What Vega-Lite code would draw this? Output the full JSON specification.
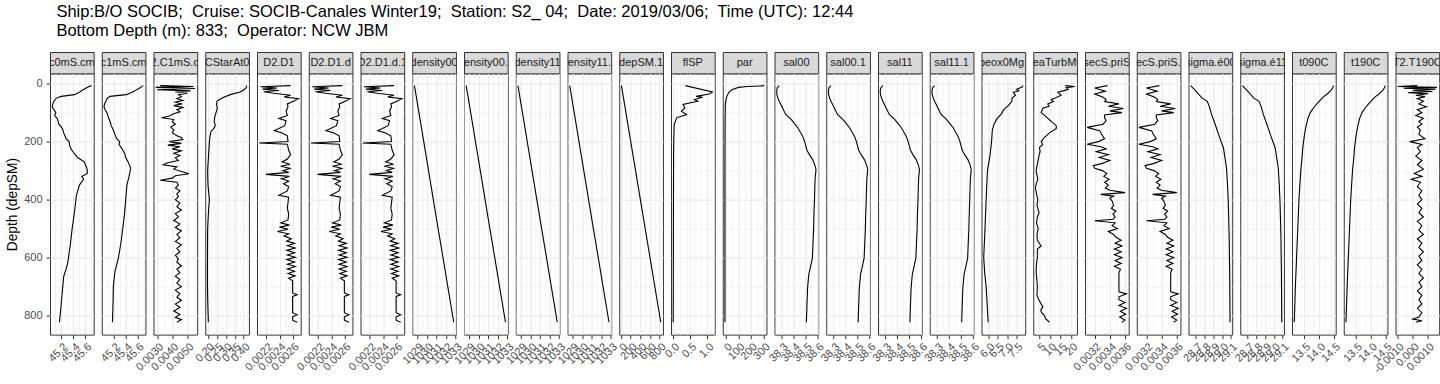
{
"$schema":"https://vega.github.io/schema/vega-lite/v6.json",
"padding":{"left":5,"top":4,"right":4,"bottom":4},
"background":"white",
"title":{"text":["Ship:B/O SOCIB;\u00a0 Cruise: SOCIB-Canales Winter19;\u00a0 Station: S2_ 04;\u00a0 Date: 2019/03/06;\u00a0 Time (UTC): 12:44","\u00a0Bottom Depth (m): 833;\u00a0 Operator: NCW JBM"],"anchor":"start","frame":"group","dx":6.4,"fontSize":16.5,"fontWeight":"normal","font":"Liberation Sans","color":"black","lineHeight":19,"offset":11.7},
"data":{"values":[
{"v":"c0mS.cm","d":7,"x":45.70},{"v":"c0mS.cm","d":12,"x":45.64},{"v":"c0mS.cm","d":20,"x":45.57},{"v":"c0mS.cm","d":30,"x":45.50},{"v":"c0mS.cm","d":38,"x":45.42},{"v":"c0mS.cm","d":44,"x":45.20},{"v":"c0mS.cm","d":50,"x":45.12},{"v":"c0mS.cm","d":60,"x":45.08},{"v":"c0mS.cm","d":70,"x":45.06},{"v":"c0mS.cm","d":80,"x":45.05},{"v":"c0mS.cm","d":90,"x":45.08},{"v":"c0mS.cm","d":100,"x":45.11},{"v":"c0mS.cm","d":110,"x":45.09},{"v":"c0mS.cm","d":120,"x":45.13},{"v":"c0mS.cm","d":130,"x":45.15},{"v":"c0mS.cm","d":140,"x":45.16},{"v":"c0mS.cm","d":155,"x":45.22},{"v":"c0mS.cm","d":170,"x":45.24},{"v":"c0mS.cm","d":190,"x":45.28},{"v":"c0mS.cm","d":200,"x":45.33},{"v":"c0mS.cm","d":215,"x":45.34},{"v":"c0mS.cm","d":225,"x":45.36},{"v":"c0mS.cm","d":240,"x":45.41},{"v":"c0mS.cm","d":255,"x":45.47},{"v":"c0mS.cm","d":270,"x":45.58},{"v":"c0mS.cm","d":280,"x":45.60},{"v":"c0mS.cm","d":290,"x":45.62},{"v":"c0mS.cm","d":300,"x":45.63},{"v":"c0mS.cm","d":310,"x":45.63},{"v":"c0mS.cm","d":320,"x":45.54},{"v":"c0mS.cm","d":330,"x":45.57},{"v":"c0mS.cm","d":350,"x":45.50},{"v":"c0mS.cm","d":385,"x":45.45},{"v":"c0mS.cm","d":440,"x":45.42},{"v":"c0mS.cm","d":500,"x":45.38},{"v":"c0mS.cm","d":555,"x":45.35},{"v":"c0mS.cm","d":615,"x":45.31},{"v":"c0mS.cm","d":640,"x":45.28},{"v":"c0mS.cm","d":665,"x":45.24},{"v":"c0mS.cm","d":735,"x":45.21},{"v":"c0mS.cm","d":780,"x":45.19},{"v":"c0mS.cm","d":823,"x":45.17},
{"v":"c1mS.cm","d":7,"x":45.69},{"v":"c1mS.cm","d":15,"x":45.63},{"v":"c1mS.cm","d":25,"x":45.55},{"v":"c1mS.cm","d":32,"x":45.48},{"v":"c1mS.cm","d":38,"x":45.41},{"v":"c1mS.cm","d":44,"x":45.14},{"v":"c1mS.cm","d":52,"x":45.09},{"v":"c1mS.cm","d":60,"x":45.075},{"v":"c1mS.cm","d":70,"x":45.05},{"v":"c1mS.cm","d":80,"x":45.04},{"v":"c1mS.cm","d":90,"x":45.06},{"v":"c1mS.cm","d":100,"x":45.09},{"v":"c1mS.cm","d":115,"x":45.11},{"v":"c1mS.cm","d":130,"x":45.14},{"v":"c1mS.cm","d":145,"x":45.16},{"v":"c1mS.cm","d":160,"x":45.195},{"v":"c1mS.cm","d":175,"x":45.22},{"v":"c1mS.cm","d":190,"x":45.25},{"v":"c1mS.cm","d":200,"x":45.30},{"v":"c1mS.cm","d":210,"x":45.29},{"v":"c1mS.cm","d":225,"x":45.34},{"v":"c1mS.cm","d":240,"x":45.38},{"v":"c1mS.cm","d":255,"x":45.40},{"v":"c1mS.cm","d":270,"x":45.44},{"v":"c1mS.cm","d":290,"x":45.48},{"v":"c1mS.cm","d":305,"x":45.47},{"v":"c1mS.cm","d":320,"x":45.455},{"v":"c1mS.cm","d":350,"x":45.42},{"v":"c1mS.cm","d":400,"x":45.40},{"v":"c1mS.cm","d":450,"x":45.38},{"v":"c1mS.cm","d":500,"x":45.35},{"v":"c1mS.cm","d":550,"x":45.32},{"v":"c1mS.cm","d":600,"x":45.28},{"v":"c1mS.cm","d":650,"x":45.22},{"v":"c1mS.cm","d":700,"x":45.195},{"v":"c1mS.cm","d":760,"x":45.19},{"v":"c1mS.cm","d":823,"x":45.18},
{"v":"C2.C1mS.cm","d":7,"x":0.0032},{"v":"C2.C1mS.cm","d":10,"x":0.0054},{"v":"C2.C1mS.cm","d":13,"x":0.0029},{"v":"C2.C1mS.cm","d":17,"x":0.0055},{"v":"C2.C1mS.cm","d":21,"x":0.0030},{"v":"C2.C1mS.cm","d":25,"x":0.0052},{"v":"C2.C1mS.cm","d":29,"x":0.0042},{"v":"C2.C1mS.cm","d":33,"x":0.0050},{"v":"C2.C1mS.cm","d":38,"x":0.0044},{"v":"C2.C1mS.cm","d":45,"x":0.0046},{"v":"C2.C1mS.cm","d":52,"x":0.0043},{"v":"C2.C1mS.cm","d":58,"x":0.0047},{"v":"C2.C1mS.cm","d":64,"x":0.0042},{"v":"C2.C1mS.cm","d":70,"x":0.0046},{"v":"C2.C1mS.cm","d":76,"x":0.0041},{"v":"C2.C1mS.cm","d":82,"x":0.0047},{"v":"C2.C1mS.cm","d":90,"x":0.0043},{"v":"C2.C1mS.cm","d":97,"x":0.0045},{"v":"C2.C1mS.cm","d":104,"x":0.0041},{"v":"C2.C1mS.cm","d":112,"x":0.0038},{"v":"C2.C1mS.cm","d":118,"x":0.0033},{"v":"C2.C1mS.cm","d":124,"x":0.0041},{"v":"C2.C1mS.cm","d":132,"x":0.0040},{"v":"C2.C1mS.cm","d":140,"x":0.0042},{"v":"C2.C1mS.cm","d":150,"x":0.0039},{"v":"C2.C1mS.cm","d":160,"x":0.0041},{"v":"C2.C1mS.cm","d":170,"x":0.0040},{"v":"C2.C1mS.cm","d":180,"x":0.0043},{"v":"C2.C1mS.cm","d":186,"x":0.0046},{"v":"C2.C1mS.cm","d":193,"x":0.0047},{"v":"C2.C1mS.cm","d":200,"x":0.0038},{"v":"C2.C1mS.cm","d":206,"x":0.0046},{"v":"C2.C1mS.cm","d":212,"x":0.0037},{"v":"C2.C1mS.cm","d":218,"x":0.0045},{"v":"C2.C1mS.cm","d":225,"x":0.0040},{"v":"C2.C1mS.cm","d":232,"x":0.0046},{"v":"C2.C1mS.cm","d":240,"x":0.0041},{"v":"C2.C1mS.cm","d":248,"x":0.0045},{"v":"C2.C1mS.cm","d":256,"x":0.0042},{"v":"C2.C1mS.cm","d":265,"x":0.0044},{"v":"C2.C1mS.cm","d":273,"x":0.0037},{"v":"C2.C1mS.cm","d":280,"x":0.0034},{"v":"C2.C1mS.cm","d":287,"x":0.0043},{"v":"C2.C1mS.cm","d":295,"x":0.0041},{"v":"C2.C1mS.cm","d":303,"x":0.0046},{"v":"C2.C1mS.cm","d":311,"x":0.0051},{"v":"C2.C1mS.cm","d":318,"x":0.0042},{"v":"C2.C1mS.cm","d":326,"x":0.0040},{"v":"C2.C1mS.cm","d":333,"x":0.0032},{"v":"C2.C1mS.cm","d":340,"x":0.0043},{"v":"C2.C1mS.cm","d":350,"x":0.0044},{"v":"C2.C1mS.cm","d":360,"x":0.0042},{"v":"C2.C1mS.cm","d":370,"x":0.0045},{"v":"C2.C1mS.cm","d":380,"x":0.0043},{"v":"C2.C1mS.cm","d":390,"x":0.0044},{"v":"C2.C1mS.cm","d":400,"x":0.0042},{"v":"C2.C1mS.cm","d":412,"x":0.0045},{"v":"C2.C1mS.cm","d":424,"x":0.0043},{"v":"C2.C1mS.cm","d":436,"x":0.0046},{"v":"C2.C1mS.cm","d":448,"x":0.0042},{"v":"C2.C1mS.cm","d":460,"x":0.0044},{"v":"C2.C1mS.cm","d":472,"x":0.0041},{"v":"C2.C1mS.cm","d":484,"x":0.0045},{"v":"C2.C1mS.cm","d":496,"x":0.0042},{"v":"C2.C1mS.cm","d":508,"x":0.0046},{"v":"C2.C1mS.cm","d":520,"x":0.0043},{"v":"C2.C1mS.cm","d":532,"x":0.0045},{"v":"C2.C1mS.cm","d":544,"x":0.0042},{"v":"C2.C1mS.cm","d":556,"x":0.0046},{"v":"C2.C1mS.cm","d":568,"x":0.0043},{"v":"C2.C1mS.cm","d":580,"x":0.0045},{"v":"C2.C1mS.cm","d":592,"x":0.0042},{"v":"C2.C1mS.cm","d":604,"x":0.0044},{"v":"C2.C1mS.cm","d":616,"x":0.0043},{"v":"C2.C1mS.cm","d":628,"x":0.0046},{"v":"C2.C1mS.cm","d":640,"x":0.0043},{"v":"C2.C1mS.cm","d":652,"x":0.0045},{"v":"C2.C1mS.cm","d":664,"x":0.0042},{"v":"C2.C1mS.cm","d":676,"x":0.0045},{"v":"C2.C1mS.cm","d":688,"x":0.0043},{"v":"C2.C1mS.cm","d":700,"x":0.0046},{"v":"C2.C1mS.cm","d":712,"x":0.0042},{"v":"C2.C1mS.cm","d":724,"x":0.0045},{"v":"C2.C1mS.cm","d":736,"x":0.0043},{"v":"C2.C1mS.cm","d":748,"x":0.0046},{"v":"C2.C1mS.cm","d":760,"x":0.0042},{"v":"C2.C1mS.cm","d":772,"x":0.0045},{"v":"C2.C1mS.cm","d":784,"x":0.0041},{"v":"C2.C1mS.cm","d":796,"x":0.0045},{"v":"C2.C1mS.cm","d":806,"x":0.0042},{"v":"C2.C1mS.cm","d":814,"x":0.0046},{"v":"C2.C1mS.cm","d":823,"x":0.0043},
{"v":"CStarAt0","d":7,"x":0.417},{"v":"CStarAt0","d":15,"x":0.413},{"v":"CStarAt0","d":22,"x":0.400},{"v":"CStarAt0","d":30,"x":0.376},{"v":"CStarAt0","d":38,"x":0.324},{"v":"CStarAt0","d":50,"x":0.279},{"v":"CStarAt0","d":60,"x":0.251},{"v":"CStarAt0","d":70,"x":0.248},{"v":"CStarAt0","d":85,"x":0.252},{"v":"CStarAt0","d":100,"x":0.245},{"v":"CStarAt0","d":115,"x":0.238},{"v":"CStarAt0","d":130,"x":0.235},{"v":"CStarAt0","d":145,"x":0.241},{"v":"CStarAt0","d":155,"x":0.232},{"v":"CStarAt0","d":165,"x":0.217},{"v":"CStarAt0","d":180,"x":0.212},{"v":"CStarAt0","d":200,"x":0.208},{"v":"CStarAt0","d":250,"x":0.203},{"v":"CStarAt0","d":300,"x":0.198},{"v":"CStarAt0","d":350,"x":0.200},{"v":"CStarAt0","d":400,"x":0.208},{"v":"CStarAt0","d":440,"x":0.203},{"v":"CStarAt0","d":500,"x":0.198},{"v":"CStarAt0","d":600,"x":0.197},{"v":"CStarAt0","d":700,"x":0.197},{"v":"CStarAt0","d":760,"x":0.199},{"v":"CStarAt0","d":823,"x":0.202},
{"v":"D2.D1","d":7,"x":0.00257},{"v":"D2.D1","d":11,"x":0.00211},{"v":"D2.D1","d":15,"x":0.00236},{"v":"D2.D1","d":19,"x":0.00214},{"v":"D2.D1","d":24,"x":0.00239},{"v":"D2.D1","d":28,"x":0.00216},{"v":"D2.D1","d":33,"x":0.00231},{"v":"D2.D1","d":40,"x":0.00257},{"v":"D2.D1","d":46,"x":0.00247},{"v":"D2.D1","d":52,"x":0.00269},{"v":"D2.D1","d":60,"x":0.00262},{"v":"D2.D1","d":70,"x":0.00252},{"v":"D2.D1","d":80,"x":0.00253},{"v":"D2.D1","d":95,"x":0.00250},{"v":"D2.D1","d":110,"x":0.00252},{"v":"D2.D1","d":120,"x":0.00239},{"v":"D2.D1","d":128,"x":0.00250},{"v":"D2.D1","d":145,"x":0.00248},{"v":"D2.D1","d":155,"x":0.00239},{"v":"D2.D1","d":162,"x":0.00232},{"v":"D2.D1","d":170,"x":0.00244},{"v":"D2.D1","d":180,"x":0.00252},{"v":"D2.D1","d":200,"x":0.00253},{"v":"D2.D1","d":205,"x":0.00209},{"v":"D2.D1","d":209,"x":0.00252},{"v":"D2.D1","d":230,"x":0.00254},{"v":"D2.D1","d":245,"x":0.00257},{"v":"D2.D1","d":260,"x":0.00252},{"v":"D2.D1","d":270,"x":0.00244},{"v":"D2.D1","d":278,"x":0.00256},{"v":"D2.D1","d":285,"x":0.00242},{"v":"D2.D1","d":292,"x":0.00256},{"v":"D2.D1","d":300,"x":0.00245},{"v":"D2.D1","d":306,"x":0.00254},{"v":"D2.D1","d":313,"x":0.00219},{"v":"D2.D1","d":320,"x":0.00255},{"v":"D2.D1","d":328,"x":0.00243},{"v":"D2.D1","d":336,"x":0.00254},{"v":"D2.D1","d":345,"x":0.00246},{"v":"D2.D1","d":355,"x":0.00254},{"v":"D2.D1","d":370,"x":0.00252},{"v":"D2.D1","d":385,"x":0.00239},{"v":"D2.D1","d":392,"x":0.00254},{"v":"D2.D1","d":410,"x":0.00253},{"v":"D2.D1","d":430,"x":0.00252},{"v":"D2.D1","d":450,"x":0.00254},{"v":"D2.D1","d":470,"x":0.00253},{"v":"D2.D1","d":480,"x":0.00242},{"v":"D2.D1","d":488,"x":0.00255},{"v":"D2.D1","d":495,"x":0.00240},{"v":"D2.D1","d":502,"x":0.00253},{"v":"D2.D1","d":510,"x":0.00237},{"v":"D2.D1","d":518,"x":0.00254},{"v":"D2.D1","d":525,"x":0.00247},{"v":"D2.D1","d":535,"x":0.00258},{"v":"D2.D1","d":543,"x":0.00251},{"v":"D2.D1","d":551,"x":0.00263},{"v":"D2.D1","d":559,"x":0.00252},{"v":"D2.D1","d":567,"x":0.00264},{"v":"D2.D1","d":575,"x":0.00251},{"v":"D2.D1","d":583,"x":0.00263},{"v":"D2.D1","d":591,"x":0.00252},{"v":"D2.D1","d":599,"x":0.00264},{"v":"D2.D1","d":607,"x":0.00251},{"v":"D2.D1","d":615,"x":0.00263},{"v":"D2.D1","d":623,"x":0.00252},{"v":"D2.D1","d":631,"x":0.00264},{"v":"D2.D1","d":639,"x":0.00252},{"v":"D2.D1","d":647,"x":0.00263},{"v":"D2.D1","d":655,"x":0.00253},{"v":"D2.D1","d":663,"x":0.00264},{"v":"D2.D1","d":671,"x":0.00254},{"v":"D2.D1","d":680,"x":0.00260},{"v":"D2.D1","d":722,"x":0.00260},{"v":"D2.D1","d":728,"x":0.00267},{"v":"D2.D1","d":734,"x":0.00260},{"v":"D2.D1","d":790,"x":0.00260},{"v":"D2.D1","d":797,"x":0.00267},{"v":"D2.D1","d":804,"x":0.00260},{"v":"D2.D1","d":816,"x":0.00260},{"v":"D2.D1","d":823,"x":0.00267},
{"v":"D2.D1.d","d":7,"x":0.00257},{"v":"D2.D1.d","d":11,"x":0.00211},{"v":"D2.D1.d","d":15,"x":0.00236},{"v":"D2.D1.d","d":19,"x":0.00214},{"v":"D2.D1.d","d":24,"x":0.00239},{"v":"D2.D1.d","d":28,"x":0.00216},{"v":"D2.D1.d","d":33,"x":0.00231},{"v":"D2.D1.d","d":40,"x":0.00257},{"v":"D2.D1.d","d":46,"x":0.00247},{"v":"D2.D1.d","d":52,"x":0.00269},{"v":"D2.D1.d","d":60,"x":0.00262},{"v":"D2.D1.d","d":70,"x":0.00252},{"v":"D2.D1.d","d":80,"x":0.00253},{"v":"D2.D1.d","d":95,"x":0.00250},{"v":"D2.D1.d","d":110,"x":0.00252},{"v":"D2.D1.d","d":120,"x":0.00239},{"v":"D2.D1.d","d":128,"x":0.00250},{"v":"D2.D1.d","d":145,"x":0.00248},{"v":"D2.D1.d","d":155,"x":0.00239},{"v":"D2.D1.d","d":162,"x":0.00232},{"v":"D2.D1.d","d":170,"x":0.00244},{"v":"D2.D1.d","d":180,"x":0.00252},{"v":"D2.D1.d","d":200,"x":0.00253},{"v":"D2.D1.d","d":205,"x":0.00209},{"v":"D2.D1.d","d":209,"x":0.00252},{"v":"D2.D1.d","d":230,"x":0.00254},{"v":"D2.D1.d","d":245,"x":0.00257},{"v":"D2.D1.d","d":260,"x":0.00252},{"v":"D2.D1.d","d":270,"x":0.00244},{"v":"D2.D1.d","d":278,"x":0.00256},{"v":"D2.D1.d","d":285,"x":0.00242},{"v":"D2.D1.d","d":292,"x":0.00256},{"v":"D2.D1.d","d":300,"x":0.00245},{"v":"D2.D1.d","d":306,"x":0.00254},{"v":"D2.D1.d","d":313,"x":0.00219},{"v":"D2.D1.d","d":320,"x":0.00255},{"v":"D2.D1.d","d":328,"x":0.00243},{"v":"D2.D1.d","d":336,"x":0.00254},{"v":"D2.D1.d","d":345,"x":0.00246},{"v":"D2.D1.d","d":355,"x":0.00254},{"v":"D2.D1.d","d":370,"x":0.00252},{"v":"D2.D1.d","d":385,"x":0.00239},{"v":"D2.D1.d","d":392,"x":0.00254},{"v":"D2.D1.d","d":410,"x":0.00253},{"v":"D2.D1.d","d":430,"x":0.00252},{"v":"D2.D1.d","d":450,"x":0.00254},{"v":"D2.D1.d","d":470,"x":0.00253},{"v":"D2.D1.d","d":480,"x":0.00242},{"v":"D2.D1.d","d":488,"x":0.00255},{"v":"D2.D1.d","d":495,"x":0.00240},{"v":"D2.D1.d","d":502,"x":0.00253},{"v":"D2.D1.d","d":510,"x":0.00237},{"v":"D2.D1.d","d":518,"x":0.00254},{"v":"D2.D1.d","d":525,"x":0.00247},{"v":"D2.D1.d","d":535,"x":0.00258},{"v":"D2.D1.d","d":543,"x":0.00251},{"v":"D2.D1.d","d":551,"x":0.00263},{"v":"D2.D1.d","d":559,"x":0.00252},{"v":"D2.D1.d","d":567,"x":0.00264},{"v":"D2.D1.d","d":575,"x":0.00251},{"v":"D2.D1.d","d":583,"x":0.00263},{"v":"D2.D1.d","d":591,"x":0.00252},{"v":"D2.D1.d","d":599,"x":0.00264},{"v":"D2.D1.d","d":607,"x":0.00251},{"v":"D2.D1.d","d":615,"x":0.00263},{"v":"D2.D1.d","d":623,"x":0.00252},{"v":"D2.D1.d","d":631,"x":0.00264},{"v":"D2.D1.d","d":639,"x":0.00252},{"v":"D2.D1.d","d":647,"x":0.00263},{"v":"D2.D1.d","d":655,"x":0.00253},{"v":"D2.D1.d","d":663,"x":0.00264},{"v":"D2.D1.d","d":671,"x":0.00254},{"v":"D2.D1.d","d":680,"x":0.00260},{"v":"D2.D1.d","d":722,"x":0.00260},{"v":"D2.D1.d","d":728,"x":0.00267},{"v":"D2.D1.d","d":734,"x":0.00260},{"v":"D2.D1.d","d":790,"x":0.00260},{"v":"D2.D1.d","d":797,"x":0.00267},{"v":"D2.D1.d","d":804,"x":0.00260},{"v":"D2.D1.d","d":816,"x":0.00260},{"v":"D2.D1.d","d":823,"x":0.00267},
{"v":"D2.D1.d.1","d":7,"x":0.00257},{"v":"D2.D1.d.1","d":11,"x":0.00211},{"v":"D2.D1.d.1","d":15,"x":0.00236},{"v":"D2.D1.d.1","d":19,"x":0.00214},{"v":"D2.D1.d.1","d":24,"x":0.00239},{"v":"D2.D1.d.1","d":28,"x":0.00216},{"v":"D2.D1.d.1","d":33,"x":0.00231},{"v":"D2.D1.d.1","d":40,"x":0.00257},{"v":"D2.D1.d.1","d":46,"x":0.00247},{"v":"D2.D1.d.1","d":52,"x":0.00269},{"v":"D2.D1.d.1","d":60,"x":0.00262},{"v":"D2.D1.d.1","d":70,"x":0.00252},{"v":"D2.D1.d.1","d":80,"x":0.00253},{"v":"D2.D1.d.1","d":95,"x":0.00250},{"v":"D2.D1.d.1","d":110,"x":0.00252},{"v":"D2.D1.d.1","d":120,"x":0.00239},{"v":"D2.D1.d.1","d":128,"x":0.00250},{"v":"D2.D1.d.1","d":145,"x":0.00248},{"v":"D2.D1.d.1","d":155,"x":0.00239},{"v":"D2.D1.d.1","d":162,"x":0.00232},{"v":"D2.D1.d.1","d":170,"x":0.00244},{"v":"D2.D1.d.1","d":180,"x":0.00252},{"v":"D2.D1.d.1","d":200,"x":0.00253},{"v":"D2.D1.d.1","d":205,"x":0.00209},{"v":"D2.D1.d.1","d":209,"x":0.00252},{"v":"D2.D1.d.1","d":230,"x":0.00254},{"v":"D2.D1.d.1","d":245,"x":0.00257},{"v":"D2.D1.d.1","d":260,"x":0.00252},{"v":"D2.D1.d.1","d":270,"x":0.00244},{"v":"D2.D1.d.1","d":278,"x":0.00256},{"v":"D2.D1.d.1","d":285,"x":0.00242},{"v":"D2.D1.d.1","d":292,"x":0.00256},{"v":"D2.D1.d.1","d":300,"x":0.00245},{"v":"D2.D1.d.1","d":306,"x":0.00254},{"v":"D2.D1.d.1","d":313,"x":0.00219},{"v":"D2.D1.d.1","d":320,"x":0.00255},{"v":"D2.D1.d.1","d":328,"x":0.00243},{"v":"D2.D1.d.1","d":336,"x":0.00254},{"v":"D2.D1.d.1","d":345,"x":0.00246},{"v":"D2.D1.d.1","d":355,"x":0.00254},{"v":"D2.D1.d.1","d":370,"x":0.00252},{"v":"D2.D1.d.1","d":385,"x":0.00239},{"v":"D2.D1.d.1","d":392,"x":0.00254},{"v":"D2.D1.d.1","d":410,"x":0.00253},{"v":"D2.D1.d.1","d":430,"x":0.00252},{"v":"D2.D1.d.1","d":450,"x":0.00254},{"v":"D2.D1.d.1","d":470,"x":0.00253},{"v":"D2.D1.d.1","d":480,"x":0.00242},{"v":"D2.D1.d.1","d":488,"x":0.00255},{"v":"D2.D1.d.1","d":495,"x":0.00240},{"v":"D2.D1.d.1","d":502,"x":0.00253},{"v":"D2.D1.d.1","d":510,"x":0.00237},{"v":"D2.D1.d.1","d":518,"x":0.00254},{"v":"D2.D1.d.1","d":525,"x":0.00247},{"v":"D2.D1.d.1","d":535,"x":0.00258},{"v":"D2.D1.d.1","d":543,"x":0.00251},{"v":"D2.D1.d.1","d":551,"x":0.00263},{"v":"D2.D1.d.1","d":559,"x":0.00252},{"v":"D2.D1.d.1","d":567,"x":0.00264},{"v":"D2.D1.d.1","d":575,"x":0.00251},{"v":"D2.D1.d.1","d":583,"x":0.00263},{"v":"D2.D1.d.1","d":591,"x":0.00252},{"v":"D2.D1.d.1","d":599,"x":0.00264},{"v":"D2.D1.d.1","d":607,"x":0.00251},{"v":"D2.D1.d.1","d":615,"x":0.00263},{"v":"D2.D1.d.1","d":623,"x":0.00252},{"v":"D2.D1.d.1","d":631,"x":0.00264},{"v":"D2.D1.d.1","d":639,"x":0.00252},{"v":"D2.D1.d.1","d":647,"x":0.00263},{"v":"D2.D1.d.1","d":655,"x":0.00253},{"v":"D2.D1.d.1","d":663,"x":0.00264},{"v":"D2.D1.d.1","d":671,"x":0.00254},{"v":"D2.D1.d.1","d":680,"x":0.00260},{"v":"D2.D1.d.1","d":722,"x":0.00260},{"v":"D2.D1.d.1","d":728,"x":0.00267},{"v":"D2.D1.d.1","d":734,"x":0.00260},{"v":"D2.D1.d.1","d":790,"x":0.00260},{"v":"D2.D1.d.1","d":797,"x":0.00267},{"v":"D2.D1.d.1","d":804,"x":0.00260},{"v":"D2.D1.d.1","d":816,"x":0.00260},{"v":"D2.D1.d.1","d":823,"x":0.00267},
{"v":"density00","d":7,"x":1028.70},{"v":"density00","d":100,"x":1029.17},{"v":"density00","d":200,"x":1029.67},{"v":"density00","d":300,"x":1030.17},{"v":"density00","d":400,"x":1030.67},{"v":"density00","d":500,"x":1031.17},{"v":"density00","d":600,"x":1031.68},{"v":"density00","d":700,"x":1032.18},{"v":"density00","d":823,"x":1032.80},
{"v":"density00.1","d":7,"x":1028.70},{"v":"density00.1","d":100,"x":1029.17},{"v":"density00.1","d":200,"x":1029.67},{"v":"density00.1","d":300,"x":1030.17},{"v":"density00.1","d":400,"x":1030.67},{"v":"density00.1","d":500,"x":1031.17},{"v":"density00.1","d":600,"x":1031.68},{"v":"density00.1","d":700,"x":1032.18},{"v":"density00.1","d":823,"x":1032.80},
{"v":"density11","d":7,"x":1028.70},{"v":"density11","d":100,"x":1029.17},{"v":"density11","d":200,"x":1029.67},{"v":"density11","d":300,"x":1030.17},{"v":"density11","d":400,"x":1030.67},{"v":"density11","d":500,"x":1031.17},{"v":"density11","d":600,"x":1031.68},{"v":"density11","d":700,"x":1032.18},{"v":"density11","d":823,"x":1032.80},
{"v":"density11.1","d":7,"x":1028.70},{"v":"density11.1","d":100,"x":1029.17},{"v":"density11.1","d":200,"x":1029.67},{"v":"density11.1","d":300,"x":1030.17},{"v":"density11.1","d":400,"x":1030.67},{"v":"density11.1","d":500,"x":1031.17},{"v":"density11.1","d":600,"x":1031.68},{"v":"density11.1","d":700,"x":1032.18},{"v":"density11.1","d":823,"x":1032.80},
{"v":"depSM.1","d":7,"x":7},{"v":"depSM.1","d":200,"x":200},{"v":"depSM.1","d":400,"x":400},{"v":"depSM.1","d":600,"x":600},{"v":"depSM.1","d":823,"x":823},
{"v":"flSP","d":7,"x":0.355},{"v":"flSP","d":29,"x":1.15},{"v":"flSP","d":36,"x":1.05},{"v":"flSP","d":44,"x":0.67},{"v":"flSP","d":47,"x":0.86},{"v":"flSP","d":55,"x":0.62},{"v":"flSP","d":61,"x":0.72},{"v":"flSP","d":64,"x":0.58},{"v":"flSP","d":72,"x":0.29},{"v":"flSP","d":84,"x":0.34},{"v":"flSP","d":95,"x":0.24},{"v":"flSP","d":107,"x":0.39},{"v":"flSP","d":118,"x":0.10},{"v":"flSP","d":141,"x":0.03},{"v":"flSP","d":200,"x":0.015},{"v":"flSP","d":300,"x":0.01},{"v":"flSP","d":500,"x":0.005},{"v":"flSP","d":700,"x":0.003},{"v":"flSP","d":823,"x":0.0},
{"v":"par","d":7,"x":305},{"v":"par","d":8,"x":270},{"v":"par","d":10,"x":165},{"v":"par","d":13,"x":100},{"v":"par","d":21,"x":47},{"v":"par","d":32,"x":21},{"v":"par","d":49,"x":3},{"v":"par","d":72,"x":-5},{"v":"par","d":120,"x":-7},{"v":"par","d":300,"x":-8},{"v":"par","d":823,"x":-8},
{"v":"sal00","d":7,"x":38.279},{"v":"sal00","d":15,"x":38.262},{"v":"sal00","d":25,"x":38.258},{"v":"sal00","d":38,"x":38.260},{"v":"sal00","d":50,"x":38.268},{"v":"sal00","d":61,"x":38.279},{"v":"sal00","d":78,"x":38.300},{"v":"sal00","d":95,"x":38.320},{"v":"sal00","d":107,"x":38.335},{"v":"sal00","d":124,"x":38.380},{"v":"sal00","d":140,"x":38.410},{"v":"sal00","d":153,"x":38.435},{"v":"sal00","d":168,"x":38.455},{"v":"sal00","d":182,"x":38.475},{"v":"sal00","d":199,"x":38.490},{"v":"sal00","d":215,"x":38.500},{"v":"sal00","d":228,"x":38.508},{"v":"sal00","d":245,"x":38.530},{"v":"sal00","d":262,"x":38.557},{"v":"sal00","d":280,"x":38.575},{"v":"sal00","d":297,"x":38.585},{"v":"sal00","d":325,"x":38.578},{"v":"sal00","d":360,"x":38.575},{"v":"sal00","d":406,"x":38.572},{"v":"sal00","d":450,"x":38.568},{"v":"sal00","d":503,"x":38.565},{"v":"sal00","d":550,"x":38.560},{"v":"sal00","d":601,"x":38.555},{"v":"sal00","d":630,"x":38.540},{"v":"sal00","d":658,"x":38.525},{"v":"sal00","d":705,"x":38.515},{"v":"sal00","d":760,"x":38.510},{"v":"sal00","d":823,"x":38.505},
{"v":"sal00.1","d":7,"x":38.279},{"v":"sal00.1","d":15,"x":38.262},{"v":"sal00.1","d":25,"x":38.258},{"v":"sal00.1","d":38,"x":38.260},{"v":"sal00.1","d":50,"x":38.268},{"v":"sal00.1","d":61,"x":38.279},{"v":"sal00.1","d":78,"x":38.300},{"v":"sal00.1","d":95,"x":38.320},{"v":"sal00.1","d":107,"x":38.335},{"v":"sal00.1","d":124,"x":38.380},{"v":"sal00.1","d":140,"x":38.410},{"v":"sal00.1","d":153,"x":38.435},{"v":"sal00.1","d":168,"x":38.455},{"v":"sal00.1","d":182,"x":38.475},{"v":"sal00.1","d":199,"x":38.490},{"v":"sal00.1","d":215,"x":38.500},{"v":"sal00.1","d":228,"x":38.508},{"v":"sal00.1","d":245,"x":38.530},{"v":"sal00.1","d":262,"x":38.557},{"v":"sal00.1","d":280,"x":38.575},{"v":"sal00.1","d":297,"x":38.585},{"v":"sal00.1","d":325,"x":38.578},{"v":"sal00.1","d":360,"x":38.575},{"v":"sal00.1","d":406,"x":38.572},{"v":"sal00.1","d":450,"x":38.568},{"v":"sal00.1","d":503,"x":38.565},{"v":"sal00.1","d":550,"x":38.560},{"v":"sal00.1","d":601,"x":38.555},{"v":"sal00.1","d":630,"x":38.540},{"v":"sal00.1","d":658,"x":38.525},{"v":"sal00.1","d":705,"x":38.515},{"v":"sal00.1","d":760,"x":38.510},{"v":"sal00.1","d":823,"x":38.505},
{"v":"sal11","d":7,"x":38.280},{"v":"sal11","d":15,"x":38.263},{"v":"sal11","d":25,"x":38.258},{"v":"sal11","d":38,"x":38.261},{"v":"sal11","d":50,"x":38.269},{"v":"sal11","d":61,"x":38.280},{"v":"sal11","d":78,"x":38.301},{"v":"sal11","d":95,"x":38.321},{"v":"sal11","d":107,"x":38.336},{"v":"sal11","d":124,"x":38.381},{"v":"sal11","d":140,"x":38.411},{"v":"sal11","d":153,"x":38.436},{"v":"sal11","d":168,"x":38.456},{"v":"sal11","d":182,"x":38.476},{"v":"sal11","d":199,"x":38.491},{"v":"sal11","d":215,"x":38.501},{"v":"sal11","d":228,"x":38.509},{"v":"sal11","d":245,"x":38.531},{"v":"sal11","d":262,"x":38.558},{"v":"sal11","d":280,"x":38.576},{"v":"sal11","d":297,"x":38.586},{"v":"sal11","d":325,"x":38.579},{"v":"sal11","d":360,"x":38.576},{"v":"sal11","d":406,"x":38.573},{"v":"sal11","d":450,"x":38.569},{"v":"sal11","d":503,"x":38.566},{"v":"sal11","d":550,"x":38.561},{"v":"sal11","d":601,"x":38.556},{"v":"sal11","d":630,"x":38.541},{"v":"sal11","d":658,"x":38.526},{"v":"sal11","d":705,"x":38.516},{"v":"sal11","d":760,"x":38.511},{"v":"sal11","d":823,"x":38.506},
{"v":"sal11.1","d":7,"x":38.280},{"v":"sal11.1","d":15,"x":38.263},{"v":"sal11.1","d":25,"x":38.258},{"v":"sal11.1","d":38,"x":38.261},{"v":"sal11.1","d":50,"x":38.269},{"v":"sal11.1","d":61,"x":38.280},{"v":"sal11.1","d":78,"x":38.301},{"v":"sal11.1","d":95,"x":38.321},{"v":"sal11.1","d":107,"x":38.336},{"v":"sal11.1","d":124,"x":38.381},{"v":"sal11.1","d":140,"x":38.411},{"v":"sal11.1","d":153,"x":38.436},{"v":"sal11.1","d":168,"x":38.456},{"v":"sal11.1","d":182,"x":38.476},{"v":"sal11.1","d":199,"x":38.491},{"v":"sal11.1","d":215,"x":38.501},{"v":"sal11.1","d":228,"x":38.509},{"v":"sal11.1","d":245,"x":38.531},{"v":"sal11.1","d":262,"x":38.558},{"v":"sal11.1","d":280,"x":38.576},{"v":"sal11.1","d":297,"x":38.586},{"v":"sal11.1","d":325,"x":38.579},{"v":"sal11.1","d":360,"x":38.576},{"v":"sal11.1","d":406,"x":38.573},{"v":"sal11.1","d":450,"x":38.569},{"v":"sal11.1","d":503,"x":38.566},{"v":"sal11.1","d":550,"x":38.561},{"v":"sal11.1","d":601,"x":38.556},{"v":"sal11.1","d":630,"x":38.541},{"v":"sal11.1","d":658,"x":38.526},{"v":"sal11.1","d":705,"x":38.516},{"v":"sal11.1","d":760,"x":38.511},{"v":"sal11.1","d":823,"x":38.506},
{"v":"sbeox0Mg.L","d":7,"x":7.85},{"v":"sbeox0Mg.L","d":12,"x":7.80},{"v":"sbeox0Mg.L","d":20,"x":7.50},{"v":"sbeox0Mg.L","d":25,"x":7.62},{"v":"sbeox0Mg.L","d":30,"x":7.33},{"v":"sbeox0Mg.L","d":40,"x":7.45},{"v":"sbeox0Mg.L","d":50,"x":7.26},{"v":"sbeox0Mg.L","d":60,"x":7.26},{"v":"sbeox0Mg.L","d":75,"x":7.08},{"v":"sbeox0Mg.L","d":90,"x":6.82},{"v":"sbeox0Mg.L","d":105,"x":6.69},{"v":"sbeox0Mg.L","d":120,"x":6.47},{"v":"sbeox0Mg.L","d":140,"x":6.30},{"v":"sbeox0Mg.L","d":160,"x":6.21},{"v":"sbeox0Mg.L","d":200,"x":6.17},{"v":"sbeox0Mg.L","d":250,"x":6.08},{"v":"sbeox0Mg.L","d":300,"x":5.95},{"v":"sbeox0Mg.L","d":400,"x":5.88},{"v":"sbeox0Mg.L","d":500,"x":5.82},{"v":"sbeox0Mg.L","d":600,"x":5.75},{"v":"sbeox0Mg.L","d":650,"x":5.80},{"v":"sbeox0Mg.L","d":700,"x":5.88},{"v":"sbeox0Mg.L","d":823,"x":5.99},
{"v":"seaTurbMtr","d":7,"x":17.1},{"v":"seaTurbMtr","d":10,"x":21.6},{"v":"seaTurbMtr","d":14,"x":17.6},{"v":"seaTurbMtr","d":20,"x":18.5},{"v":"seaTurbMtr","d":25,"x":16.0},{"v":"seaTurbMtr","d":30,"x":13.6},{"v":"seaTurbMtr","d":40,"x":15.2},{"v":"seaTurbMtr","d":50,"x":12.5},{"v":"seaTurbMtr","d":55,"x":10.5},{"v":"seaTurbMtr","d":62,"x":11.5},{"v":"seaTurbMtr","d":70,"x":8.9},{"v":"seaTurbMtr","d":78,"x":9.5},{"v":"seaTurbMtr","d":85,"x":6.6},{"v":"seaTurbMtr","d":100,"x":5.8},{"v":"seaTurbMtr","d":115,"x":8.2},{"v":"seaTurbMtr","d":130,"x":10.5},{"v":"seaTurbMtr","d":145,"x":12.9},{"v":"seaTurbMtr","d":155,"x":12.9},{"v":"seaTurbMtr","d":170,"x":9.7},{"v":"seaTurbMtr","d":185,"x":7.4},{"v":"seaTurbMtr","d":200,"x":5.8},{"v":"seaTurbMtr","d":210,"x":6.5},{"v":"seaTurbMtr","d":220,"x":5.0},{"v":"seaTurbMtr","d":235,"x":5.3},{"v":"seaTurbMtr","d":250,"x":4.7},{"v":"seaTurbMtr","d":270,"x":4.2},{"v":"seaTurbMtr","d":300,"x":3.4},{"v":"seaTurbMtr","d":315,"x":3.8},{"v":"seaTurbMtr","d":330,"x":4.2},{"v":"seaTurbMtr","d":345,"x":3.5},{"v":"seaTurbMtr","d":360,"x":3.1},{"v":"seaTurbMtr","d":380,"x":3.6},{"v":"seaTurbMtr","d":400,"x":4.2},{"v":"seaTurbMtr","d":420,"x":3.8},{"v":"seaTurbMtr","d":445,"x":4.8},{"v":"seaTurbMtr","d":460,"x":4.0},{"v":"seaTurbMtr","d":480,"x":3.6},{"v":"seaTurbMtr","d":500,"x":4.4},{"v":"seaTurbMtr","d":520,"x":3.8},{"v":"seaTurbMtr","d":540,"x":4.0},{"v":"seaTurbMtr","d":560,"x":5.8},{"v":"seaTurbMtr","d":570,"x":4.0},{"v":"seaTurbMtr","d":600,"x":4.0},{"v":"seaTurbMtr","d":620,"x":3.6},{"v":"seaTurbMtr","d":650,"x":3.4},{"v":"seaTurbMtr","d":680,"x":3.8},{"v":"seaTurbMtr","d":700,"x":4.0},{"v":"seaTurbMtr","d":730,"x":3.8},{"v":"seaTurbMtr","d":750,"x":5.0},{"v":"seaTurbMtr","d":770,"x":6.6},{"v":"seaTurbMtr","d":780,"x":5.6},{"v":"seaTurbMtr","d":790,"x":6.0},{"v":"seaTurbMtr","d":800,"x":7.4},{"v":"seaTurbMtr","d":810,"x":7.8},{"v":"seaTurbMtr","d":823,"x":9.7},
{"v":"secS.priS","d":7,"x":0.00337},{"v":"secS.priS","d":15,"x":0.00320},{"v":"secS.priS","d":26,"x":0.00334},{"v":"secS.priS","d":36,"x":0.00320},{"v":"secS.priS","d":47,"x":0.00331},{"v":"secS.priS","d":55,"x":0.00335},{"v":"secS.priS","d":62,"x":0.00333},{"v":"secS.priS","d":70,"x":0.00352},{"v":"secS.priS","d":78,"x":0.00338},{"v":"secS.priS","d":86,"x":0.00358},{"v":"secS.priS","d":94,"x":0.00340},{"v":"secS.priS","d":100,"x":0.00356},{"v":"secS.priS","d":108,"x":0.00333},{"v":"secS.priS","d":118,"x":0.00333},{"v":"secS.priS","d":128,"x":0.00335},{"v":"secS.priS","d":140,"x":0.00331},{"v":"secS.priS","d":151,"x":0.00310},{"v":"secS.priS","d":163,"x":0.00327},{"v":"secS.priS","d":175,"x":0.00329},{"v":"secS.priS","d":190,"x":0.00333},{"v":"secS.priS","d":200,"x":0.00325},{"v":"secS.priS","d":209,"x":0.00310},{"v":"secS.priS","d":218,"x":0.00328},{"v":"secS.priS","d":225,"x":0.00335},{"v":"secS.priS","d":235,"x":0.00322},{"v":"secS.priS","d":245,"x":0.00338},{"v":"secS.priS","d":255,"x":0.00326},{"v":"secS.priS","d":265,"x":0.00340},{"v":"secS.priS","d":275,"x":0.00330},{"v":"secS.priS","d":283,"x":0.00318},{"v":"secS.priS","d":292,"x":0.00320},{"v":"secS.priS","d":300,"x":0.00330},{"v":"secS.priS","d":310,"x":0.00336},{"v":"secS.priS","d":320,"x":0.00332},{"v":"secS.priS","d":330,"x":0.00339},{"v":"secS.priS","d":340,"x":0.00333},{"v":"secS.priS","d":350,"x":0.00338},{"v":"secS.priS","d":360,"x":0.00334},{"v":"secS.priS","d":368,"x":0.00340},{"v":"secS.priS","d":376,"x":0.00360},{"v":"secS.priS","d":382,"x":0.00328},{"v":"secS.priS","d":388,"x":0.00345},{"v":"secS.priS","d":395,"x":0.00340},{"v":"secS.priS","d":405,"x":0.00343},{"v":"secS.priS","d":420,"x":0.00345},{"v":"secS.priS","d":430,"x":0.00342},{"v":"secS.priS","d":440,"x":0.00348},{"v":"secS.priS","d":450,"x":0.00344},{"v":"secS.priS","d":460,"x":0.00347},{"v":"secS.priS","d":468,"x":0.00344},{"v":"secS.priS","d":473,"x":0.00320},{"v":"secS.priS","d":480,"x":0.00347},{"v":"secS.priS","d":490,"x":0.00343},{"v":"secS.priS","d":500,"x":0.00350},{"v":"secS.priS","d":510,"x":0.00338},{"v":"secS.priS","d":520,"x":0.00345},{"v":"secS.priS","d":530,"x":0.00348},{"v":"secS.priS","d":540,"x":0.00355},{"v":"secS.priS","d":550,"x":0.00347},{"v":"secS.priS","d":560,"x":0.00356},{"v":"secS.priS","d":570,"x":0.00346},{"v":"secS.priS","d":580,"x":0.00355},{"v":"secS.priS","d":590,"x":0.00346},{"v":"secS.priS","d":600,"x":0.00356},{"v":"secS.priS","d":610,"x":0.00347},{"v":"secS.priS","d":620,"x":0.00355},{"v":"secS.priS","d":630,"x":0.00346},{"v":"secS.priS","d":640,"x":0.00354},{"v":"secS.priS","d":652,"x":0.00352},{"v":"secS.priS","d":690,"x":0.00352},{"v":"secS.priS","d":718,"x":0.00352},{"v":"secS.priS","d":725,"x":0.00362},{"v":"secS.priS","d":735,"x":0.00352},{"v":"secS.priS","d":745,"x":0.00352},{"v":"secS.priS","d":755,"x":0.00360},{"v":"secS.priS","d":765,"x":0.00352},{"v":"secS.priS","d":775,"x":0.00362},{"v":"secS.priS","d":785,"x":0.00354},{"v":"secS.priS","d":795,"x":0.00361},{"v":"secS.priS","d":805,"x":0.00353},{"v":"secS.priS","d":815,"x":0.00360},{"v":"secS.priS","d":823,"x":0.00356},
{"v":"secS.priS.1","d":7,"x":0.00337},{"v":"secS.priS.1","d":15,"x":0.00320},{"v":"secS.priS.1","d":26,"x":0.00334},{"v":"secS.priS.1","d":36,"x":0.00320},{"v":"secS.priS.1","d":47,"x":0.00331},{"v":"secS.priS.1","d":55,"x":0.00335},{"v":"secS.priS.1","d":62,"x":0.00333},{"v":"secS.priS.1","d":70,"x":0.00352},{"v":"secS.priS.1","d":78,"x":0.00338},{"v":"secS.priS.1","d":86,"x":0.00358},{"v":"secS.priS.1","d":94,"x":0.00340},{"v":"secS.priS.1","d":100,"x":0.00356},{"v":"secS.priS.1","d":108,"x":0.00333},{"v":"secS.priS.1","d":118,"x":0.00333},{"v":"secS.priS.1","d":128,"x":0.00335},{"v":"secS.priS.1","d":140,"x":0.00331},{"v":"secS.priS.1","d":151,"x":0.00310},{"v":"secS.priS.1","d":163,"x":0.00327},{"v":"secS.priS.1","d":175,"x":0.00329},{"v":"secS.priS.1","d":190,"x":0.00333},{"v":"secS.priS.1","d":200,"x":0.00325},{"v":"secS.priS.1","d":209,"x":0.00310},{"v":"secS.priS.1","d":218,"x":0.00328},{"v":"secS.priS.1","d":225,"x":0.00335},{"v":"secS.priS.1","d":235,"x":0.00322},{"v":"secS.priS.1","d":245,"x":0.00338},{"v":"secS.priS.1","d":255,"x":0.00326},{"v":"secS.priS.1","d":265,"x":0.00340},{"v":"secS.priS.1","d":275,"x":0.00330},{"v":"secS.priS.1","d":283,"x":0.00318},{"v":"secS.priS.1","d":292,"x":0.00320},{"v":"secS.priS.1","d":300,"x":0.00330},{"v":"secS.priS.1","d":310,"x":0.00336},{"v":"secS.priS.1","d":320,"x":0.00332},{"v":"secS.priS.1","d":330,"x":0.00339},{"v":"secS.priS.1","d":340,"x":0.00333},{"v":"secS.priS.1","d":350,"x":0.00338},{"v":"secS.priS.1","d":360,"x":0.00334},{"v":"secS.priS.1","d":368,"x":0.00340},{"v":"secS.priS.1","d":376,"x":0.00360},{"v":"secS.priS.1","d":382,"x":0.00328},{"v":"secS.priS.1","d":388,"x":0.00345},{"v":"secS.priS.1","d":395,"x":0.00340},{"v":"secS.priS.1","d":405,"x":0.00343},{"v":"secS.priS.1","d":420,"x":0.00345},{"v":"secS.priS.1","d":430,"x":0.00342},{"v":"secS.priS.1","d":440,"x":0.00348},{"v":"secS.priS.1","d":450,"x":0.00344},{"v":"secS.priS.1","d":460,"x":0.00347},{"v":"secS.priS.1","d":468,"x":0.00344},{"v":"secS.priS.1","d":473,"x":0.00320},{"v":"secS.priS.1","d":480,"x":0.00347},{"v":"secS.priS.1","d":490,"x":0.00343},{"v":"secS.priS.1","d":500,"x":0.00350},{"v":"secS.priS.1","d":510,"x":0.00338},{"v":"secS.priS.1","d":520,"x":0.00345},{"v":"secS.priS.1","d":530,"x":0.00348},{"v":"secS.priS.1","d":540,"x":0.00355},{"v":"secS.priS.1","d":550,"x":0.00347},{"v":"secS.priS.1","d":560,"x":0.00356},{"v":"secS.priS.1","d":570,"x":0.00346},{"v":"secS.priS.1","d":580,"x":0.00355},{"v":"secS.priS.1","d":590,"x":0.00346},{"v":"secS.priS.1","d":600,"x":0.00356},{"v":"secS.priS.1","d":610,"x":0.00347},{"v":"secS.priS.1","d":620,"x":0.00355},{"v":"secS.priS.1","d":630,"x":0.00346},{"v":"secS.priS.1","d":640,"x":0.00354},{"v":"secS.priS.1","d":652,"x":0.00352},{"v":"secS.priS.1","d":690,"x":0.00352},{"v":"secS.priS.1","d":718,"x":0.00352},{"v":"secS.priS.1","d":725,"x":0.00362},{"v":"secS.priS.1","d":735,"x":0.00352},{"v":"secS.priS.1","d":745,"x":0.00352},{"v":"secS.priS.1","d":755,"x":0.00360},{"v":"secS.priS.1","d":765,"x":0.00352},{"v":"secS.priS.1","d":775,"x":0.00362},{"v":"secS.priS.1","d":785,"x":0.00354},{"v":"secS.priS.1","d":795,"x":0.00361},{"v":"secS.priS.1","d":805,"x":0.00353},{"v":"secS.priS.1","d":815,"x":0.00360},{"v":"secS.priS.1","d":823,"x":0.00356},
{"v":"sigma.é00","d":7,"x":28.64},{"v":"sigma.é00","d":26,"x":28.70},{"v":"sigma.é00","d":50,"x":28.77},{"v":"sigma.é00","d":61,"x":28.83},{"v":"sigma.é00","d":80,"x":28.855},{"v":"sigma.é00","d":107,"x":28.88},{"v":"sigma.é00","d":140,"x":28.92},{"v":"sigma.é00","d":176,"x":28.96},{"v":"sigma.é00","d":222,"x":29.015},{"v":"sigma.é00","d":291,"x":29.05},{"v":"sigma.é00","d":350,"x":29.062},{"v":"sigma.é00","d":406,"x":29.07},{"v":"sigma.é00","d":521,"x":29.08},{"v":"sigma.é00","d":650,"x":29.086},{"v":"sigma.é00","d":823,"x":29.09},
{"v":"sigma.é11","d":7,"x":28.64},{"v":"sigma.é11","d":26,"x":28.70},{"v":"sigma.é11","d":50,"x":28.77},{"v":"sigma.é11","d":61,"x":28.83},{"v":"sigma.é11","d":80,"x":28.855},{"v":"sigma.é11","d":107,"x":28.88},{"v":"sigma.é11","d":140,"x":28.92},{"v":"sigma.é11","d":176,"x":28.96},{"v":"sigma.é11","d":222,"x":29.015},{"v":"sigma.é11","d":291,"x":29.05},{"v":"sigma.é11","d":350,"x":29.062},{"v":"sigma.é11","d":406,"x":29.07},{"v":"sigma.é11","d":521,"x":29.08},{"v":"sigma.é11","d":650,"x":29.086},{"v":"sigma.é11","d":823,"x":29.09},
{"v":"t090C","d":7,"x":14.48},{"v":"t090C","d":15,"x":14.45},{"v":"t090C","d":25,"x":14.38},{"v":"t090C","d":35,"x":14.28},{"v":"t090C","d":45,"x":14.15},{"v":"t090C","d":55,"x":14.05},{"v":"t090C","d":70,"x":13.92},{"v":"t090C","d":85,"x":13.80},{"v":"t090C","d":100,"x":13.70},{"v":"t090C","d":120,"x":13.62},{"v":"t090C","d":150,"x":13.55},{"v":"t090C","d":180,"x":13.50},{"v":"t090C","d":220,"x":13.45},{"v":"t090C","d":260,"x":13.42},{"v":"t090C","d":300,"x":13.38},{"v":"t090C","d":400,"x":13.32},{"v":"t090C","d":500,"x":13.28},{"v":"t090C","d":600,"x":13.24},{"v":"t090C","d":700,"x":13.20},{"v":"t090C","d":823,"x":13.16},
{"v":"t190C","d":7,"x":14.48},{"v":"t190C","d":15,"x":14.45},{"v":"t190C","d":25,"x":14.38},{"v":"t190C","d":35,"x":14.28},{"v":"t190C","d":45,"x":14.15},{"v":"t190C","d":55,"x":14.05},{"v":"t190C","d":70,"x":13.92},{"v":"t190C","d":85,"x":13.80},{"v":"t190C","d":100,"x":13.70},{"v":"t190C","d":120,"x":13.62},{"v":"t190C","d":150,"x":13.55},{"v":"t190C","d":180,"x":13.50},{"v":"t190C","d":220,"x":13.45},{"v":"t190C","d":260,"x":13.42},{"v":"t190C","d":300,"x":13.38},{"v":"t190C","d":400,"x":13.32},{"v":"t190C","d":500,"x":13.28},{"v":"t190C","d":600,"x":13.24},{"v":"t190C","d":700,"x":13.20},{"v":"t190C","d":823,"x":13.16},
{"v":"T2.T190C","d":7,"x":0.0003},{"v":"T2.T190C","d":10,"x":-0.0010},{"v":"T2.T190C","d":13,"x":0.0016},{"v":"T2.T190C","d":16,"x":-0.0006},{"v":"T2.T190C","d":19,"x":0.0015},{"v":"T2.T190C","d":23,"x":0.0000},{"v":"T2.T190C","d":27,"x":0.0013},{"v":"T2.T190C","d":31,"x":-0.0003},{"v":"T2.T190C","d":35,"x":0.0010},{"v":"T2.T190C","d":40,"x":0.0002},{"v":"T2.T190C","d":45,"x":0.0008},{"v":"T2.T190C","d":52,"x":0.0003},{"v":"T2.T190C","d":60,"x":0.0007},{"v":"T2.T190C","d":70,"x":0.0004},{"v":"T2.T190C","d":80,"x":0.0009},{"v":"T2.T190C","d":90,"x":0.0003},{"v":"T2.T190C","d":100,"x":0.0006},{"v":"T2.T190C","d":110,"x":0.0002},{"v":"T2.T190C","d":120,"x":0.0007},{"v":"T2.T190C","d":130,"x":0.0004},{"v":"T2.T190C","d":140,"x":0.0006},{"v":"T2.T190C","d":150,"x":0.0003},{"v":"T2.T190C","d":160,"x":0.0005},{"v":"T2.T190C","d":175,"x":0.0004},{"v":"T2.T190C","d":190,"x":0.0008},{"v":"T2.T190C","d":200,"x":-0.0002},{"v":"T2.T190C","d":210,"x":0.0006},{"v":"T2.T190C","d":220,"x":0.0003},{"v":"T2.T190C","d":235,"x":0.0005},{"v":"T2.T190C","d":250,"x":0.0002},{"v":"T2.T190C","d":265,"x":0.0006},{"v":"T2.T190C","d":280,"x":0.0003},{"v":"T2.T190C","d":295,"x":0.0007},{"v":"T2.T190C","d":310,"x":0.0001},{"v":"T2.T190C","d":320,"x":0.0006},{"v":"T2.T190C","d":330,"x":-0.0001},{"v":"T2.T190C","d":340,"x":0.0005},{"v":"T2.T190C","d":355,"x":0.0003},{"v":"T2.T190C","d":370,"x":0.0006},{"v":"T2.T190C","d":385,"x":0.0004},{"v":"T2.T190C","d":400,"x":0.0006},{"v":"T2.T190C","d":415,"x":0.0003},{"v":"T2.T190C","d":430,"x":0.0006},{"v":"T2.T190C","d":445,"x":0.0004},{"v":"T2.T190C","d":460,"x":0.0007},{"v":"T2.T190C","d":475,"x":0.0003},{"v":"T2.T190C","d":490,"x":0.0006},{"v":"T2.T190C","d":505,"x":0.0004},{"v":"T2.T190C","d":520,"x":0.0007},{"v":"T2.T190C","d":535,"x":0.0003},{"v":"T2.T190C","d":550,"x":0.0006},{"v":"T2.T190C","d":565,"x":0.0004},{"v":"T2.T190C","d":580,"x":0.0007},{"v":"T2.T190C","d":595,"x":0.0004},{"v":"T2.T190C","d":610,"x":0.0006},{"v":"T2.T190C","d":625,"x":0.0003},{"v":"T2.T190C","d":640,"x":0.0006},{"v":"T2.T190C","d":655,"x":0.0004},{"v":"T2.T190C","d":670,"x":0.0007},{"v":"T2.T190C","d":685,"x":0.0004},{"v":"T2.T190C","d":700,"x":0.0006},{"v":"T2.T190C","d":715,"x":0.0003},{"v":"T2.T190C","d":730,"x":0.0006},{"v":"T2.T190C","d":745,"x":0.0004},{"v":"T2.T190C","d":760,"x":0.0006},{"v":"T2.T190C","d":775,"x":0.0003},{"v":"T2.T190C","d":790,"x":0.0006},{"v":"T2.T190C","d":805,"x":0.0004},{"v":"T2.T190C","d":812,"x":0.0000},{"v":"T2.T190C","d":818,"x":0.0006},{"v":"T2.T190C","d":823,"x":0.0002}
]},
"spacing":21.6,
"bounds":"flush",
"vconcat":[
{"transform":[{"aggregate":[{"op":"count","as":"n"}],"groupby":["v"]}],
 "facet":{"column":{"field":"v","type":"nominal","title":null,"header":{"labels":false},"sort":["c0mS.cm","c1mS.cm","C2.C1mS.cm","CStarAt0","D2.D1","D2.D1.d","D2.D1.d.1","density00","density00.1","density11","density11.1","depSM.1","flSP","par","sal00","sal00.1","sal11","sal11.1","sbeox0Mg.L","seaTurbMtr","secS.priS","secS.priS.1","sigma.é00","sigma.é11","t090C","t190C","T2.T190C"]}},
 "spacing":7.75,
 "bounds":"flush",
 "spec":{"width":43.7,"height":21.6,"view":{"fill":"#d9d9d9","stroke":"#333333","strokeWidth":1},
  "mark":{"type":"text","clip":true,"fontSize":11,"font":"Liberation Sans","color":"#1a1a1a","align":"center","baseline":"middle"},
  "encoding":{"text":{"field":"v","type":"nominal"}}}
},
{"facet":{"column":{"field":"v","type":"nominal","title":null,"header":{"labels":false},"sort":["c0mS.cm","c1mS.cm","C2.C1mS.cm","CStarAt0","D2.D1","D2.D1.d","D2.D1.d.1","density00","density00.1","density11","density11.1","depSM.1","flSP","par","sal00","sal00.1","sal11","sal11.1","sbeox0Mg.L","seaTurbMtr","secS.priS","secS.priS.1","sigma.é00","sigma.é11","t090C","t190C","T2.T190C"]}},
 "spacing":7.75,
 "bounds":"flush",
 "resolve":{"scale":{"x":"independent"}},
 "spec":{"width":43.7,"height":261,"view":{"fill":"white","stroke":"#333333","strokeWidth":1},
  "resolve":{"axis":{"x":"independent"}},
  "layer":[
   {"mark":{"type":"line","strokeOpacity":0},
    "encoding":{
     "x":{"field":"x","type":"quantitative","scale":{"zero":false,"nice":false,"padding":2.2},
          "axis":{"orient":"top","title":null,"tickCount":8,"labels":false,"ticks":false,"domain":false,"grid":true,"gridColor":"#ebebeb","gridWidth":0.55}},
     "y":{"field":"d","type":"quantitative","scale":{"domain":[-34.5,865.5],"reverse":true,"nice":false,"zero":false},
        "axis":{"title":"Depth (depSM)","values":[0,100,200,300,400,500,600,700,800],"labelExpr":"datum.value % 200 === 0 ? datum.label : ''","tickOpacity":{"condition":{"test":"datum.value % 200 === 0","value":1},"value":0},"gridWidth":{"condition":{"test":"datum.value % 200 === 0","value":1.07},"value":0.55},"gridColor":"#ebebeb","domain":false,"tickColor":"#333333","tickSize":4,"labelPadding":4,"labelFontSize":11,"labelColor":"#4d4d4d","labelFont":"Liberation Sans","titleFont":"Liberation Sans","titleFontSize":13.75,"titleFontWeight":"normal","titleColor":"black","titlePadding":4}},
     "order":{"field":"d","type":"quantitative"}}},
   {"mark":{"type":"line","color":"black","strokeWidth":1.1},
    "encoding":{
     "x":{"field":"x","type":"quantitative","scale":{"zero":false,"nice":false,"padding":2.2},
        "axis":{"orient":"bottom","title":null,"tickCount":4,"labelExpr":"replace(abs(datum.value) < 0.01 && datum.value != 0 ? format(datum.value, '.4f') : replace(datum.label, ',', ''), '\u2212', '-')","labelAngle":-45,"labelAlign":"right","labelBaseline":"top","labelOverlap":false,"labelFlush":false,"labelFontSize":11,"labelColor":"#4d4d4d","labelFont":"Liberation Sans","labelPadding":2,"tickSize":4,"tickColor":"#333333","domain":false,"grid":true,"gridColor":"#ebebeb","gridWidth":1.07}},
     "y":{"field":"d","type":"quantitative","scale":{"domain":[-34.5,865.5],"reverse":true,"nice":false,"zero":false},
        "axis":{"title":"Depth (depSM)","values":[0,100,200,300,400,500,600,700,800],"labelExpr":"datum.value % 200 === 0 ? datum.label : ''","tickOpacity":{"condition":{"test":"datum.value % 200 === 0","value":1},"value":0},"gridWidth":{"condition":{"test":"datum.value % 200 === 0","value":1.07},"value":0.55},"gridColor":"#ebebeb","domain":false,"tickColor":"#333333","tickSize":4,"labelPadding":4,"labelFontSize":11,"labelColor":"#4d4d4d","labelFont":"Liberation Sans","titleFont":"Liberation Sans","titleFontSize":13.75,"titleFontWeight":"normal","titleColor":"black","titlePadding":4}},
     "order":{"field":"d","type":"quantitative"}}}
  ]}
}
],
"config":{"font":"Liberation Sans","view":{"stroke":"#333333"}}
}
